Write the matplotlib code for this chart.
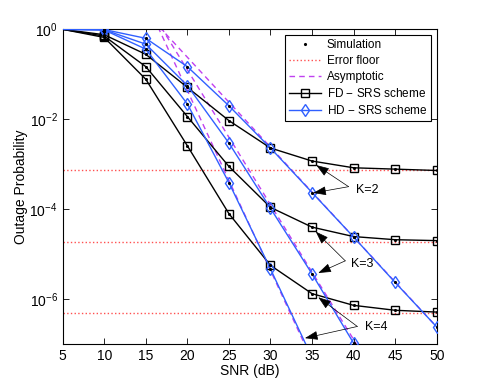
import numpy as np
import matplotlib
matplotlib.use('Agg')
import matplotlib.pyplot as plt

plt.rcParams['font.family'] = ['Liberation Sans', 'DejaVu Sans']
plt.rcParams['mathtext.fontset'] = 'custom'
plt.rcParams['mathtext.rm'] = 'Liberation Sans'
plt.rcParams['mathtext.it'] = 'Liberation Sans:italic'

# SNR grid (dB)
snr = [5, 10, 15, 20, 25, 30, 35, 40, 45, 50]

# log10 of outage probability
fd_k2 = [0, -0.12, -0.556, -1.29, -2.03, -2.64, -2.93, -3.08, -3.11, -3.14]
fd_k3 = [0, -0.15, -0.83, -1.94, -3.05, -3.96, -4.40, -4.61, -4.68, -4.70]
fd_k4 = [0, -0.18, -1.11, -2.59, -4.10, -5.25, -5.88, -6.14, -6.25, -6.29]

hd_k2 = [0, -0.005, -0.20, -0.83, -1.70, -2.64, -3.63, -4.62, -5.63, -6.62]
hd_k3 = [0, -0.01, -0.33, -1.25, -2.53, -3.98, -5.44, -6.98, -8.5, -10.0]
hd_k4 = [0, -0.015, -0.44, -1.66, -3.41, -5.33, -7.30, -9.3, -11.3, -13.3]

# error floors (log10)
floor_k = [-3.14, -4.72, -6.30]

# asymptotic curves (log10)
asym_snr = [15, 20, 25, 30, 35, 40, 45, 50]
asym_k2 = [0.38, -0.62, -1.62, -2.62, -3.62, -4.62, -5.62, -6.62]
asym_k3 = [0.60, -0.90, -2.40, -3.90, -5.40, -6.90, -8.40, -9.90]
asym_k4 = [0.64, -1.36, -3.36, -5.36, -7.36, -9.36, -11.36, -13.36]

# annotation: label, text pos, tail, two arrow heads (snr, log10)
notes = [
    ('K=2', (41.6, -3.57), (39.4, -3.50), [(35.5, -3.02), (35.15, -3.64)]),
    ('K=3', (41.0, -5.22), (39.0, -5.15), [(35.45, -4.50), (35.75, -5.42)]),
    ('K=4', (42.7, -6.62), (40.45, -6.61), [(35.75, -5.96), (34.15, -6.87)]),
]

BLUE = '#3060ff'
MAG = '#c040f0'
RED = '#ff5050'


def p(v):
    return 10.0 ** np.array(v, dtype=float)


fig = plt.figure(figsize=(4.82, 3.88), dpi=100)
ax = fig.add_axes([0.130, 0.1134, 0.776, 0.811])

# error floors
for i, f in enumerate(floor_k):
    ax.plot([snr[0], snr[-1]], p([f, f]), ':', color=RED, lw=1.0,
            label='Error floor' if i == 0 else None, zorder=1)

# asymptotic
for i, a in enumerate([asym_k2, asym_k3, asym_k4]):
    ax.plot(asym_snr, p(a), '--', color=MAG, lw=1.0, dashes=(4, 3),
            label='Asymptotic' if i == 0 else None, zorder=2)

# FD curves
for i, c in enumerate([fd_k2, fd_k3, fd_k4]):
    ax.plot(snr, p(c), '-', color='k', lw=1.0, marker='s', ms=5.5, mfc='none',
            mec='k', mew=1.0, markevery=slice(1, None),
            label='FD $-$ SRS scheme' if i == 0 else None, zorder=3)

# HD curves
for i, c in enumerate([hd_k2, hd_k3, hd_k4]):
    ax.plot(snr, p(c), '-', color=BLUE, lw=1.0, marker='d', ms=6.5, mfc='none',
            mec=BLUE, mew=1.0, markevery=slice(1, None),
            label='HD $-$ SRS scheme' if i == 0 else None, zorder=4)

# simulation dots
for i, c in enumerate([fd_k2, fd_k3, fd_k4, hd_k2, hd_k3, hd_k4]):
    ax.plot(snr[1:], p(c[1:]), '.', color='k', ms=2.5,
            label='Simulation' if i == 0 else None, zorder=5)

for lab, tpos, tail, heads in notes:
    ax.text(tpos[0], 10 ** tpos[1], lab, fontsize=9, ha='center', va='center')
    for h in heads:
        ax.annotate('', xy=(h[0], 10 ** h[1]), xytext=(tail[0], 10 ** tail[1]),
                    arrowprops=dict(arrowstyle='-|>,head_length=0.8,head_width=0.28',
                                    color='k', lw=0.5, shrinkA=0, shrinkB=0),
                    zorder=6)

ax.set_yscale('log')
ax.set_xlim(5, 50)
ax.set_ylim(1e-7, 1)
ax.set_xticks(snr)
ax.set_yticks([1, 1e-2, 1e-4, 1e-6])
ax.set_yticklabels(['$10^{0}$', '$10^{-2}$', '$10^{-4}$', '$10^{-6}$'])
ax.minorticks_off()
ax.tick_params(direction='in', top=True, right=True, length=4, width=0.6,
               labelsize=10)
for s in ax.spines.values():
    s.set_linewidth(0.8)
ax.set_xlabel('SNR (dB)', fontsize=10, labelpad=1)
ax.set_ylabel('Outage Probability', fontsize=10, labelpad=1)

handles, labels = ax.get_legend_handles_labels()
order = ['Simulation', 'Error floor', 'Asymptotic', 'FD $-$ SRS scheme', 'HD $-$ SRS scheme']
hmap = dict(zip(labels, handles))
leg = ax.legend([hmap[k] for k in order], order, loc='upper right', fontsize=8.5,
                fancybox=False, framealpha=1, edgecolor='k', handlelength=2.7,
                borderaxespad=0.45, labelspacing=0.35, borderpad=0.35,
                handletextpad=0.5)
leg.get_frame().set_linewidth(0.8)

fig.savefig('out.png', dpi=100)
